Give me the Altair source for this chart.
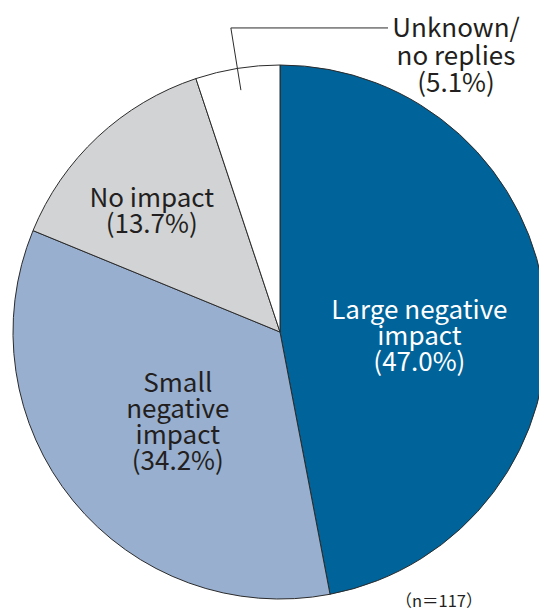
import math

import altair as alt
import pandas as pd

# Survey result: impact on business
categories = ["Large negative impact", "Small negative impact", "No impact", "Unknown/no replies"]
label_lines = [["Large negative", "impact"], ["Small", "negative", "impact"], ["No impact"], ["Unknown/", "no replies"]]
shares = [47.0, 34.2, 13.7, 5.1]
sample_note = "（n＝117）"

colors = ["#006399", "#98AFCF", "#D2D3D5", "#FFFFFF"]
FONT = "Noto Sans CJK JP"
WEIGHT = 400
SIZE = 26
DARK = "#231F20"

CX, CY, R = 280, 332, 267

df = pd.DataFrame({
    "category": categories,
    "share": shares,
    "order": list(range(len(categories))),
    "label": ["\n".join(lines + [f"({s:.1f}%)"]) for lines, s in zip(label_lines, shares)],
})

theta_scale = alt.Scale(domain=[0, 100], range=[0, 2 * math.pi])
base = alt.Chart(df)

pie = base.mark_arc(outerRadius=R, stroke="#2B2B2B", strokeWidth=1).encode(
    theta=alt.Theta("share:Q", stack=True, scale=theta_scale),
    color=alt.Color("category:N", scale=alt.Scale(domain=categories, range=colors), legend=None),
    order=alt.Order("order:Q"),
    x=alt.value(CX),
    y=alt.value(CY),
)

# mid-angle of each slice, in share units
mid = base.transform_window(
    cum="sum(share)", sort=[alt.SortField("order")], frame=[None, 0]
).transform_calculate(mid="datum.cum - datum.share / 2")


def slice_label(cat, radius, dy, color):
    return mid.transform_filter(alt.datum.category == cat).mark_text(
        radius=radius, dy=dy, font=FONT, fontSize=SIZE, fontWeight=WEIGHT, lineHeight=26,
        lineBreak="\n", align="center", baseline="alphabetic", color=color,
    ).encode(
        theta=alt.Theta("mid:Q", scale=theta_scale),
        text="label:N",
        x=alt.value(CX),
        y=alt.value(CY),
    )


labels = [
    slice_label(categories[0], 140, 0, "#FFFFFF"),
    slice_label(categories[1], 132, -23, DARK),
    slice_label(categories[2], 188, 12, DARK),
]

# callout for the small slice
callout = mid.transform_filter(alt.datum.category == categories[3]).transform_calculate(
    a="datum.mid / 100 * 2 * PI",
    x1=f"{CX} + 245 * sin(datum.a)",
    y1=f"{CY} - 245 * cos(datum.a)",
    x2=f"{CX} + 308 * sin(datum.a)",
    y2=f"{CY} - 308 * cos(datum.a)",
)
leader = callout.mark_rule(color="#2B2B2B", strokeWidth=1).encode(
    x=alt.X("x1:Q", scale=None, axis=None),
    y=alt.Y("y1:Q", scale=None, axis=None),
    x2="x2:Q",
    y2="y2:Q",
)
leader_h = callout.mark_rule(color="#2B2B2B", strokeWidth=1).encode(
    x=alt.X("x2:Q", scale=None, axis=None),
    y=alt.Y("y2:Q", scale=None, axis=None),
    x2=alt.value(388),
)
callout_text = callout.mark_text(
    font=FONT, fontSize=SIZE, fontWeight=WEIGHT, lineHeight=27.5, lineBreak="\n",
    align="center", baseline="alphabetic", color=DARK,
).encode(text="label:N", x=alt.value(456), y=alt.value(37))

note = alt.Chart(pd.DataFrame({"note": [sample_note]})).mark_text(
    font="Noto Sans CJK JP", fontSize=16.5, align="center", baseline="alphabetic", color=DARK,
).encode(text="note:N", x=alt.value(439), y=alt.value(607))

chart = alt.layer(pie, *labels, leader, leader_h, callout_text, note).properties(
    width=539, height=610, autosize="none", padding=0
).configure_view(stroke=None)

chart.save("out.html", embed_options={"renderer": "svg", "actions": False})
